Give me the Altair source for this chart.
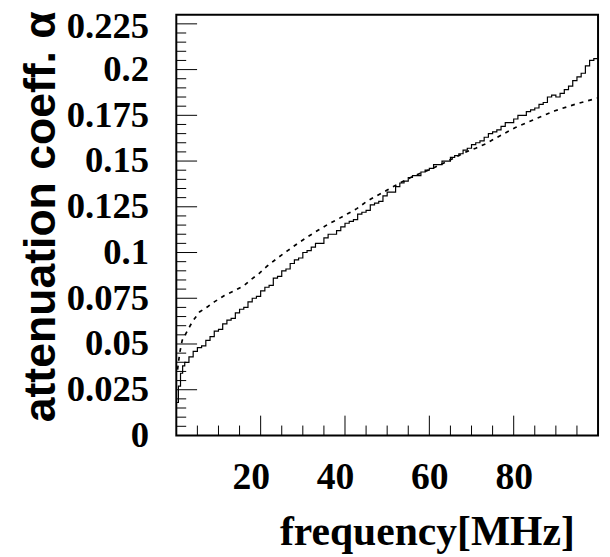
import altair as alt
import pandas as pd

# Measured attenuation (histogram, solid): bin left edges [MHz] and values
hist_edges = [0.0, 0.5, 1.0, 1.5] + list(range(2, 100))
hist_alpha = [0.018, 0.027, 0.034, 0.038,
              0.040, 0.043, 0.046, 0.048, 0.049, 0.052, 0.054, 0.057, 0.058, 0.061,
              0.063, 0.064, 0.067, 0.069, 0.070, 0.073, 0.075, 0.076, 0.079, 0.081,
              0.082, 0.086, 0.087, 0.090, 0.091, 0.094, 0.096, 0.097, 0.100, 0.101,
              0.103, 0.105, 0.105, 0.108, 0.110, 0.110, 0.112, 0.114, 0.116, 0.117,
              0.118, 0.121, 0.122, 0.123, 0.126, 0.127, 0.128, 0.131, 0.133, 0.133,
              0.136, 0.138, 0.139, 0.141, 0.142, 0.142, 0.144, 0.145, 0.146, 0.148,
              0.148, 0.150, 0.150, 0.152, 0.153, 0.154, 0.156, 0.157, 0.159, 0.160,
              0.161, 0.163, 0.165, 0.166, 0.167, 0.169, 0.171, 0.171, 0.173, 0.175,
              0.175, 0.177, 0.178, 0.179, 0.181, 0.182, 0.185, 0.186, 0.185, 0.187,
              0.189, 0.191, 0.194, 0.196, 0.198, 0.202, 0.205, 0.206]
hist_end = 100.0

# Model curve (dashed)
model_f = [0.3, 0.8, 1.4, 2.8, 3.9, 5.5, 7.5, 9.0, 11.4, 13.7, 16.1, 17.6, 19.6, 21.5,
           24.0, 26.4, 28.8, 31.1, 33.5, 35.8, 38.1, 40.5, 42.8, 45.2, 47.5, 49.9,
           52.2, 56.0, 60.8, 65.5, 68.7, 71.0, 73.4, 75.7, 80.4, 85.1, 89.8, 94.5, 100.0]
model_alpha = [0.036, 0.045, 0.052, 0.058, 0.0625, 0.0675, 0.0705, 0.073, 0.0765, 0.079,
               0.082, 0.085, 0.0885, 0.0925, 0.097, 0.101, 0.105, 0.1085, 0.112, 0.1152,
               0.118, 0.121, 0.124, 0.128, 0.131, 0.134, 0.137, 0.1415, 0.146, 0.1513,
               0.155, 0.157, 0.1595, 0.1625, 0.1683, 0.173, 0.1775, 0.181, 0.1845]

# Tick positions
x_major = [20, 40, 60, 80]
x_minor = [5, 10, 15, 25, 30, 35, 45, 50, 55, 65, 70, 75, 85, 90, 95]
y_major = [0.025, 0.05, 0.075, 0.1, 0.125, 0.15, 0.175, 0.2, 0.225]
y_minor = [v / 1000 for v in range(5, 230, 5) if v % 25 != 0]
y_labels = [0, 0.025, 0.05, 0.075, 0.1, 0.125, 0.15, 0.175, 0.2, 0.225]

W, H = 426, 425

hist_df = pd.DataFrame({"f": hist_edges + [hist_end],
                        "a": hist_alpha + [hist_alpha[-1]]})
model_df = pd.DataFrame({"f": model_f, "a": model_alpha})

xs = alt.Scale(domain=[0, 100], nice=False, zero=False)
ys = alt.Scale(domain=[0, 0.23], nice=False, zero=False)

xaxis = alt.Axis(values=x_major, ticks=False, domain=False, grid=False,
                 labelFont="Liberation Serif", labelFontWeight="bold", labelFontSize=38,
                 labelColor="black", labelPadding=24, labelOverlap=False, labelFlush=False,
                 labelOffset={"condition": {"test": "datum.value < 50", "value": -10}, "value": 0},
                 title="frequency[MHz]", titleFont="Liberation Serif", titleFontWeight="bold",
                 titleFontSize=42, titleColor="black", titleX=402, titleY=110,
                 titleAlign="right", titleBaseline="alphabetic")
yaxis = alt.Axis(values=y_labels, labelExpr="format(datum.value, '.3~f')",
                 ticks=False, domain=False, grid=False,
                 labelFont="Liberation Serif", labelFontWeight="bold", labelFontSize=37,
                 labelColor="black", labelPadding=28, labelOverlap=False, labelFlush=False,
                 labelOffset={"condition": {"test": "datum.value > 0.22", "value": 3}, "value": 0},
                 title="attenuation coeff. α", titleFont="Liberation Sans",
                 titleFontWeight="bold", titleFontSize=45, titleColor="black",
                 titleAngle=270, titleX=-123, titleY=-4, titleAlign="right",
                 titleBaseline="alphabetic")

hist = alt.Chart(hist_df).mark_line(interpolate="step-after", color="black",
                                    strokeWidth=1.2).encode(
    x=alt.X("f:Q", scale=xs, axis=xaxis),
    y=alt.Y("a:Q", scale=ys, axis=yaxis),
)
model = alt.Chart(model_df).mark_line(color="black", strokeWidth=1.7,
                                      strokeDash=[4, 5]).encode(
    x=alt.X("f:Q", scale=xs), y=alt.Y("a:Q", scale=ys))

xmaj = alt.Chart(pd.DataFrame({"v": x_major})).mark_rule(color="black", strokeWidth=1).encode(
    x=alt.X("v:Q", scale=xs), y=alt.value(H), y2=alt.value(H - 20))
xmin = alt.Chart(pd.DataFrame({"v": x_minor})).mark_rule(color="black", strokeWidth=1).encode(
    x=alt.X("v:Q", scale=xs), y=alt.value(H), y2=alt.value(H - 10))
ymaj = alt.Chart(pd.DataFrame({"v": y_major})).mark_rule(color="black", strokeWidth=1).encode(
    y=alt.Y("v:Q", scale=ys), x=alt.value(0), x2=alt.value(21))
ymin = alt.Chart(pd.DataFrame({"v": y_minor})).mark_rule(color="black", strokeWidth=1).encode(
    y=alt.Y("v:Q", scale=ys), x=alt.value(0), x2=alt.value(10))

chart = alt.layer(hist, model, xmaj, xmin, ymaj, ymin).properties(
    width=W, height=H,
    autosize=alt.AutoSizeParams(type="none"),
    padding={"left": 170, "top": 4, "right": 4, "bottom": 120},
    background="white",
).configure_view(stroke="black", strokeWidth=2)

chart.save("out.html", embed_options={"renderer": "svg", "actions": False})
